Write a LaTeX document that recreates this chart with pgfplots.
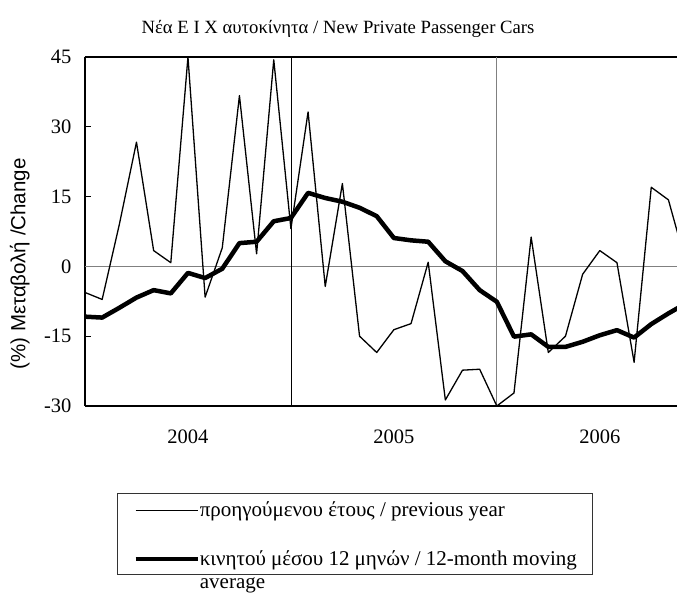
\documentclass[border=0pt]{standalone}
\usepackage{fontspec}
\setmainfont{Liberation Serif}
\newfontfamily\arialfont{Liberation Sans}
\usepackage{pgfplots}
\pgfplotsset{compat=1.18}
\begin{document}
\begin{tikzpicture}[x=1pt,y=1pt]
\begin{axis}[
  at={(85pt,188pt)}, anchor=south west,
  width=592pt, height=349pt, scale only axis,
  xmin=0, xmax=34.5, ymin=-30, ymax=45,
  axis x line*=box, axis y line*=left,
  axis line style={line width=2pt},
  ytick={-30,-15,0,15,30,45},
  xtick={6,18,30}, xticklabels={2004,2005,2006},
  tick align=inside, major tick length=6pt,
  x tick style={draw=none},
  y tick style={line width=1pt,black},
  /pgf/number format/assume math mode=true,
  tick label style={font=\fontsize{20.5}{24}\selectfont},
  yticklabel style={xshift=-10pt},
  xticklabel style={yshift=-20pt},
  title={Νέα Ε Ι Χ αυτοκίνητα / New Private Passenger Cars},
  title style={at={(0.4274,1.0688)}, anchor=base, yshift=-7pt, font=\fontsize{18.7}{22}\selectfont},
  ylabel={(\%) Μεταβολή /Change},
  ylabel style={at={(axis description cs:-0.11,0.407)}, anchor=center, font=\arialfont\fontsize{20.5}{24}\selectfont},
  legend style={at={(0.054,-0.2493)}, anchor=north west, draw=black!80, line width=0.8pt,
    font=\fontsize{21}{25}\selectfont, inner xsep=16pt, inner ysep=6pt, row sep=26pt,
    column sep=0pt, cells={anchor=base west}, nodes={inner xsep=0pt}},
  legend image code/.code={\path (-7pt,6pt) -- (55pt,6pt); \draw[#1] (0pt,6pt) -- (55pt,6pt);},
]
\draw[gray, line width=1pt] (axis cs:0,0) -- (axis cs:34.5,0);
\draw[black, line width=0.8pt] (axis cs:12,-30) -- (axis cs:12,45);
\draw[gray, line width=1pt] (axis cs:24,-30) -- (axis cs:24,45);
\addplot[black, line width=1.3pt, line join=round] coordinates {
(0,-5.6) (1,-7.1) (2,9) (3,26.7) (4,3.4) (5,0.8) (6,45) (7,-6.6) (8,4.0) (9,36.7) (10,2.7) (11,44.4)
(12,8.1) (13,33.2) (14,-4.3) (15,17.8) (16,-15.0) (17,-18.5) (18,-13.6) (19,-12.3) (20,0.9) (21,-28.7) (22,-22.3) (23,-22.1)
(24,-30.0) (25,-27.2) (26,6.3) (27,-18.5) (28,-15.0) (29,-1.7) (30,3.4) (31,0.8) (32,-20.6) (33,17.0) (34,14.3) (35,1.0)
};
\addlegendentry{προηγούμενου έτους / previous year}
\addplot[black, line width=4.5pt, line join=round] coordinates {
(0,-10.8) (1,-11.0) (2,-8.9) (3,-6.7) (4,-5.1) (5,-5.8) (6,-1.4) (7,-2.5) (8,-0.5) (9,5.0) (10,5.3) (11,9.7)
(12,10.4) (13,15.8) (14,14.7) (15,13.9) (16,12.6) (17,10.8) (18,6.1) (19,5.6) (20,5.3) (21,1.1) (22,-1.0) (23,-5.1)
(24,-7.6) (25,-15.1) (26,-14.6) (27,-17.3) (28,-17.3) (29,-16.2) (30,-14.8) (31,-13.7) (32,-15.3) (33,-12.4) (34,-10.1) (35,-8.0)
};
\addlegendentry{\begin{tabular}[t]{@{}p{377pt}@{}}κινητού μέσου 12 μηνών / 12-month moving\\[-2pt]average\end{tabular}}
\end{axis}
\pgfresetboundingbox
\path[use as bounding box] (0,0) rectangle (677,594);
\end{tikzpicture}
\end{document}
